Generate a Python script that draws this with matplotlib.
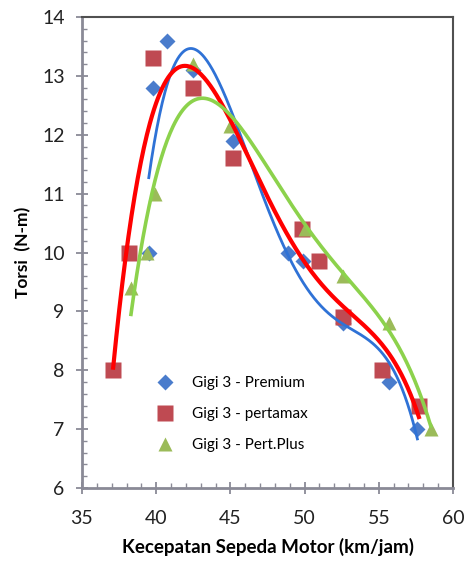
import numpy as np
import matplotlib
matplotlib.use("Agg")
import matplotlib.pyplot as plt
from matplotlib.ticker import MultipleLocator

plt.rcParams['font.family'] = ['Lato', 'DejaVu Sans']

premium_x = [39.5, 39.8, 40.75, 42.5, 45.2, 48.9, 49.9, 52.6, 55.7, 57.6]
premium_y = [10.0, 12.8, 13.6, 13.1, 11.9, 10.0, 9.85, 8.8, 7.8, 7.0]
pertamax_x = [37.1, 38.2, 39.8, 42.5, 45.2, 49.8, 51.0, 52.6, 55.2, 57.7]
pertamax_y = [8.0, 10.0, 13.3, 12.8, 11.6, 10.4, 9.85, 8.9, 8.0, 7.4]
pplus_x = [38.3, 39.4, 39.9, 42.5, 45.0, 50.0, 52.6, 55.7, 58.5]
pplus_y = [9.4, 10.0, 11.0, 13.2, 12.15, 10.4, 9.6, 8.8, 7.0]

labels = ["Gigi 3 - Premium", "Gigi 3 - pertamax", "Gigi 3 - Pert.Plus"]

fig = plt.figure(figsize=(4.67, 5.63), dpi=100, facecolor="white")
ax = fig.add_axes([82/467, 1-488/563, (453-82)/467, (488-17)/563])

series = [
    (premium_x, premium_y, "D", 8.3, "#4A7CCC", "#2F72D6", 2.0),
    (pertamax_x, pertamax_y, "s", 11.5, "#BF4A52", "#FF0000", 3.0),
    (pplus_x, pplus_y, "^", 10.5, "#9BBB59", "#8CD24C", 2.6),
]
for (x, y, m, ms, mc, lc, lw), lab in zip(series, labels):
    x = np.asarray(x); y = np.asarray(y)
    ax.plot(x, y, ls="none", marker=m, ms=ms, color=mc, mec="none", label=lab, zorder=2)
    # 4th-order polynomial trendline, as in the spreadsheet chart
    c = np.polyfit(x, y, 4)
    xs = np.linspace(x.min(), x.max(), 300)
    ax.plot(xs, np.polyval(c, xs), color=lc, lw=lw, zorder=3)

ax.set_xlim(35, 60); ax.set_ylim(6, 14)
ax.xaxis.set_major_locator(MultipleLocator(5)); ax.xaxis.set_minor_locator(MultipleLocator(1))
ax.yaxis.set_major_locator(MultipleLocator(1)); ax.yaxis.set_minor_locator(MultipleLocator(0.2))
ax.tick_params(which="major", direction="inout", length=9, width=1.3, color="#8A8A96",
               labelsize=14, labelcolor="#222222")
ax.tick_params(axis="x", which="major", pad=11)
ax.tick_params(axis="y", which="major", pad=8)
ax.tick_params(which="minor", direction="in", length=3.5, width=1.0, color="#8A8A96")
for s in ["left", "bottom"]:
    ax.spines[s].set_color("#8A8A96"); ax.spines[s].set_linewidth(2.0)
for s in ["top", "right"]:
    ax.spines[s].set_color("#505050"); ax.spines[s].set_linewidth(1.5)

ax.set_xlabel("Kecepatan Sepeda Motor (km/jam)", fontsize=13.5, fontweight="bold", labelpad=8)
ax.set_ylabel("Torsi  (N-m)", fontsize=12.5, fontweight="bold", labelpad=8)

ax.legend(loc="upper left", bbox_to_anchor=(0.165, 0.25), frameon=False, fontsize=11,
          handletextpad=0.8, labelspacing=1.1, borderaxespad=0)

fig.savefig("out.png", dpi=100, facecolor="white")
